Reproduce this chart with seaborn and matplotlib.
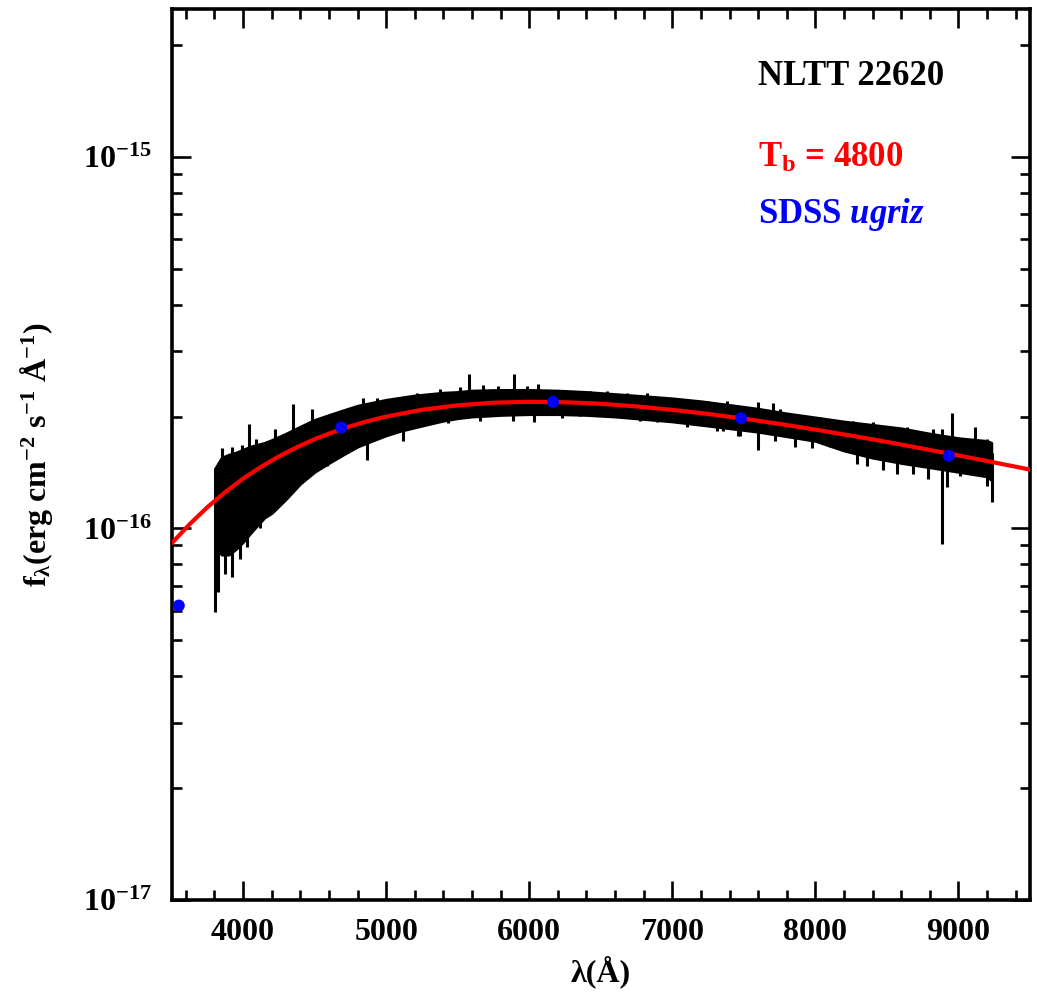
import matplotlib
matplotlib.use("Agg")
import matplotlib.pyplot as plt
import seaborn as sns
import numpy as np
import pandas as pd
from matplotlib.ticker import FixedLocator, FuncFormatter, NullFormatter

# ---------------- data ----------------
# observed spectrum: body of the noisy band (lower / upper envelope, units 1e-16)
spec_wave = [3805, 3850, 3900, 3950, 4000, 4050, 4100, 4150, 4200, 4300, 4400, 4500,
             4600, 4700, 4800, 4900, 5000, 5100, 5200, 5300, 5400, 5500, 5600, 5800,
             6000, 6200, 6400, 6600, 6800, 7000, 7200, 7400, 7600, 7800, 8000, 8200,
             8400, 8600, 8800, 9000, 9200, 9230]
spec_lo = [0.90, 0.85, 0.85, 0.88, 0.92, 0.97, 1.02, 1.07, 1.10, 1.20, 1.32, 1.42,
           1.50, 1.58, 1.66, 1.72, 1.78, 1.83, 1.87, 1.91, 1.95, 1.98, 2.00, 2.02,
           2.03, 2.03, 2.02, 2.00, 1.97, 1.94, 1.90, 1.86, 1.82, 1.77, 1.72, 1.62,
           1.55, 1.50, 1.46, 1.42, 1.38, 1.35]
spec_hi = [1.45, 1.55, 1.58, 1.60, 1.63, 1.66, 1.68, 1.70, 1.73, 1.80, 1.88, 1.96,
           2.02, 2.08, 2.14, 2.18, 2.22, 2.25, 2.28, 2.30, 2.32, 2.33, 2.35, 2.36,
           2.36, 2.35, 2.33, 2.30, 2.27, 2.24, 2.20, 2.15, 2.10, 2.04, 1.99, 1.94,
           1.90, 1.86, 1.80, 1.75, 1.72, 1.70]

# individual noise spikes of the spectrum (wavelength, bottom, top; units 1e-16)
spike_wave = [3806, 3827, 3853, 3874, 3923, 3979, 3993, 4030, 4044, 4093, 4120, 4225,
              4238, 4328, 4350, 4433, 4483, 4586, 4733, 4837, 4866, 4935, 5118, 5216,
              5377, 5432, 5580, 5886, 5893, 6033, 6060, 6230, 7103, 7311, 7460, 7600,
              7705, 7857, 7976, 8290, 8473, 8683, 8787, 8885, 8920, 8954, 9117, 9200, 9233,
              5412, 5517, 5677, 5782, 5984, 6145, 6284, 6424, 6543, 6683, 6823, 7005,
              7242, 7382, 5426, 5656, 5726, 6354, 6494, 6634, 6773, 6893,
              7333, 7423, 7753, 7871, 8032, 8172, 8262, 8402, 8640, 8822, 9198,
              7354, 7473, 7718, 8102, 8360, 8570, 9010]
spike_lo = [0.594, 0.676, 1.20, 0.752, 0.742, 0.825, 1.20, 0.889, 1.30, 1.30, 1.00, 1.40,
            1.21, 1.25, 1.50, 1.36, 1.60, 1.47, 1.70, 1.80, 1.53, 1.80, 1.72, 2.00,
            2.10, 1.92, 2.10, 1.94, 2.20, 1.93, 2.20, 1.98, 1.88, 1.83, 1.77, 1.63,
            1.90, 1.66, 1.65, 1.49, 1.44, 1.40, 1.36, 0.906, 1.29, 1.70, 1.55, 1.30, 1.18,
            2.10, 2.10, 2.10, 2.10, 2.10, 2.10, 2.10, 2.10, 2.10, 2.05, 2.05, 2.00,
            1.95, 1.95, 2.00, 1.94, 2.03, 2.01, 2.01, 1.99, 1.94, 1.93,
            1.90, 1.90, 1.85, 1.80, 1.75, 1.70, 1.65, 1.60, 1.55, 1.50, 1.45,
            1.83, 1.77, 1.72, 1.66, 1.47, 1.40, 1.38]
spike_hi = [1.45, 1.50, 1.65, 1.50, 1.66, 1.50, 1.68, 1.50, 1.91, 1.74, 1.60, 1.85,
            1.60, 1.70, 2.16, 1.80, 2.09, 1.90, 2.10, 2.25, 1.90, 2.25, 2.10, 2.32,
            2.37, 2.20, 2.60, 2.20, 2.60, 2.30, 2.44, 2.30, 2.10, 2.10, 2.05, 2.19,
            2.17, 1.90, 1.90, 1.80, 1.75, 1.70, 1.68, 1.85, 1.60, 2.05, 1.88, 1.60, 1.60,
            2.32, 2.40, 2.43, 2.41, 2.41, 2.32, 2.34, 2.34, 2.34, 2.32, 2.32, 2.25,
            2.20, 2.20, 2.20, 2.20, 2.25, 2.25, 2.25, 2.20, 2.15, 2.15,
            2.16, 2.13, 2.09, 2.00, 1.99, 1.94, 1.94, 1.93, 1.87, 1.85, 1.74,
            2.05, 2.00, 1.95, 1.90, 1.75, 1.70, 1.65]

# blackbody fit T_b = 4800 K (units 1e-16)
bb_wave = [3500, 3625, 3750, 3875, 4000, 4125, 4250, 4375, 4500, 4625, 4750, 4875,
           5000, 5250, 5500, 5750, 6000, 6250, 6500, 6750, 7000, 7250, 7500, 7750,
           8000, 8250, 8500, 8750, 9000, 9250, 9500]
bb_flux = [0.911, 1.025, 1.140, 1.252, 1.361, 1.464, 1.562, 1.653, 1.738, 1.814, 1.884,
           1.946, 2.000, 2.086, 2.145, 2.180, 2.192, 2.186, 2.165, 2.130, 2.085, 2.033,
           1.974, 1.911, 1.845, 1.777, 1.709, 1.640, 1.572, 1.505, 1.440]

# SDSS ugriz photometry (units 1e-16)
sdss_band = ["u", "g", "r", "i", "z"]
sdss_wave = [3551, 4686, 6166, 7480, 8932]
sdss_flux = [0.62, 1.87, 2.19, 1.98, 1.57]

x_major = [4000, 5000, 6000, 7000, 8000, 9000]
y_major = [1e-17, 1e-16, 1e-15]
scale = 1e-16

# ---------------- style ----------------
sns.set_theme(style="white")
plt.rcParams["font.family"] = ["Liberation Serif", "DejaVu Serif"]
plt.rcParams["font.weight"] = "bold"
plt.rcParams["mathtext.fontset"] = "custom"
plt.rcParams["mathtext.rm"] = "Liberation Serif:bold"
plt.rcParams["mathtext.bf"] = "Liberation Serif:bold"
plt.rcParams["mathtext.it"] = "Liberation Serif:bold:italic"
plt.rcParams["mathtext.default"] = "rm"
for k in ("text.color", "axes.labelcolor", "xtick.color", "ytick.color", "axes.edgecolor"):
    plt.rcParams[k] = "black"

fig = plt.figure(figsize=(10.37, 9.92), dpi=100)
ax = fig.add_axes([171.5 / 1037, 92 / 992, (1030 - 171.5) / 1037, 891 / 992])

# spectrum
w = np.array(spec_wave)
ax.fill_between(w, np.array(spec_lo) * scale, np.array(spec_hi) * scale,
                color="black", linewidth=2.0, edgecolor="black", zorder=2)
ax.vlines(np.array(spike_wave), np.array(spike_lo) * scale, np.array(spike_hi) * scale,
          color="black", linewidth=2.2, zorder=2)

# blackbody
bb = pd.DataFrame({"wave": bb_wave, "flux": np.array(bb_flux) * scale})
sns.lineplot(data=bb, x="wave", y="flux", color="#ff0000", linewidth=3.0, ax=ax, zorder=3)

# photometry
ph = pd.DataFrame({"band": sdss_band, "wave": sdss_wave, "flux": np.array(sdss_flux) * scale})
sns.scatterplot(data=ph, x="wave", y="flux", color="#0000ff", s=75, edgecolor="none",
                ax=ax, zorder=4, clip_on=False)

ax.set_yscale("log")
ax.set_xlim(3500, 9500)
ax.set_ylim(1e-17, 2.5e-15)

ax.xaxis.set_major_locator(FixedLocator(x_major))
ax.xaxis.set_minor_locator(FixedLocator(np.arange(3600, 9500, 200)))
ax.yaxis.set_major_locator(FixedLocator(y_major))
minors = [m * 10.0 ** e for e in (-17, -16, -15) for m in range(2, 10)]
ax.yaxis.set_minor_locator(FixedLocator(minors))
ax.yaxis.set_major_formatter(FuncFormatter(lambda v, p: r"$10^{%d}$" % round(np.log10(v))))
ax.yaxis.set_minor_formatter(NullFormatter())
ax.xaxis.set_major_formatter(FuncFormatter(lambda v, p: "%d" % v))

ax.tick_params(which="both", direction="in", top=True, right=True, bottom=True, left=True,
               colors="black")
ax.tick_params(which="major", length=14, width=1.9, labelsize=23)
ax.tick_params(which="minor", length=7, width=1.9)
ax.tick_params(axis="x", which="major", pad=13)
ax.tick_params(axis="y", which="major", pad=14)
for sp in ax.spines.values():
    sp.set_linewidth(2.6)
    sp.set_color("black")
    sp.set_visible(True)
ax.grid(False)

ax.set_xlabel("λ(Å)", fontsize=23, fontweight="bold", labelpad=6, color="black")
ax.set_ylabel(r"f$_{λ}$(erg cm$^{-2}$ s$^{-1}$ Å$^{-1}$)", fontsize=23, fontweight="bold",
              labelpad=20, color="black")

ax.text(0.683, 0.915, "NLTT 22620", transform=ax.transAxes, fontsize=25,
        fontweight="bold", color="black", ha="left", va="baseline")
ax.text(0.683, 0.823, r"T$_{b}$ = 4800", transform=ax.transAxes, fontsize=25,
        fontweight="bold", color="#ff0000", ha="left", va="baseline")
ax.text(0.683, 0.760, r"SDSS $\mathit{ugriz}$", transform=ax.transAxes, fontsize=25,
        fontweight="bold", color="#0000ff", ha="left", va="baseline")

fig.savefig("out.png", dpi=100, facecolor="white")
